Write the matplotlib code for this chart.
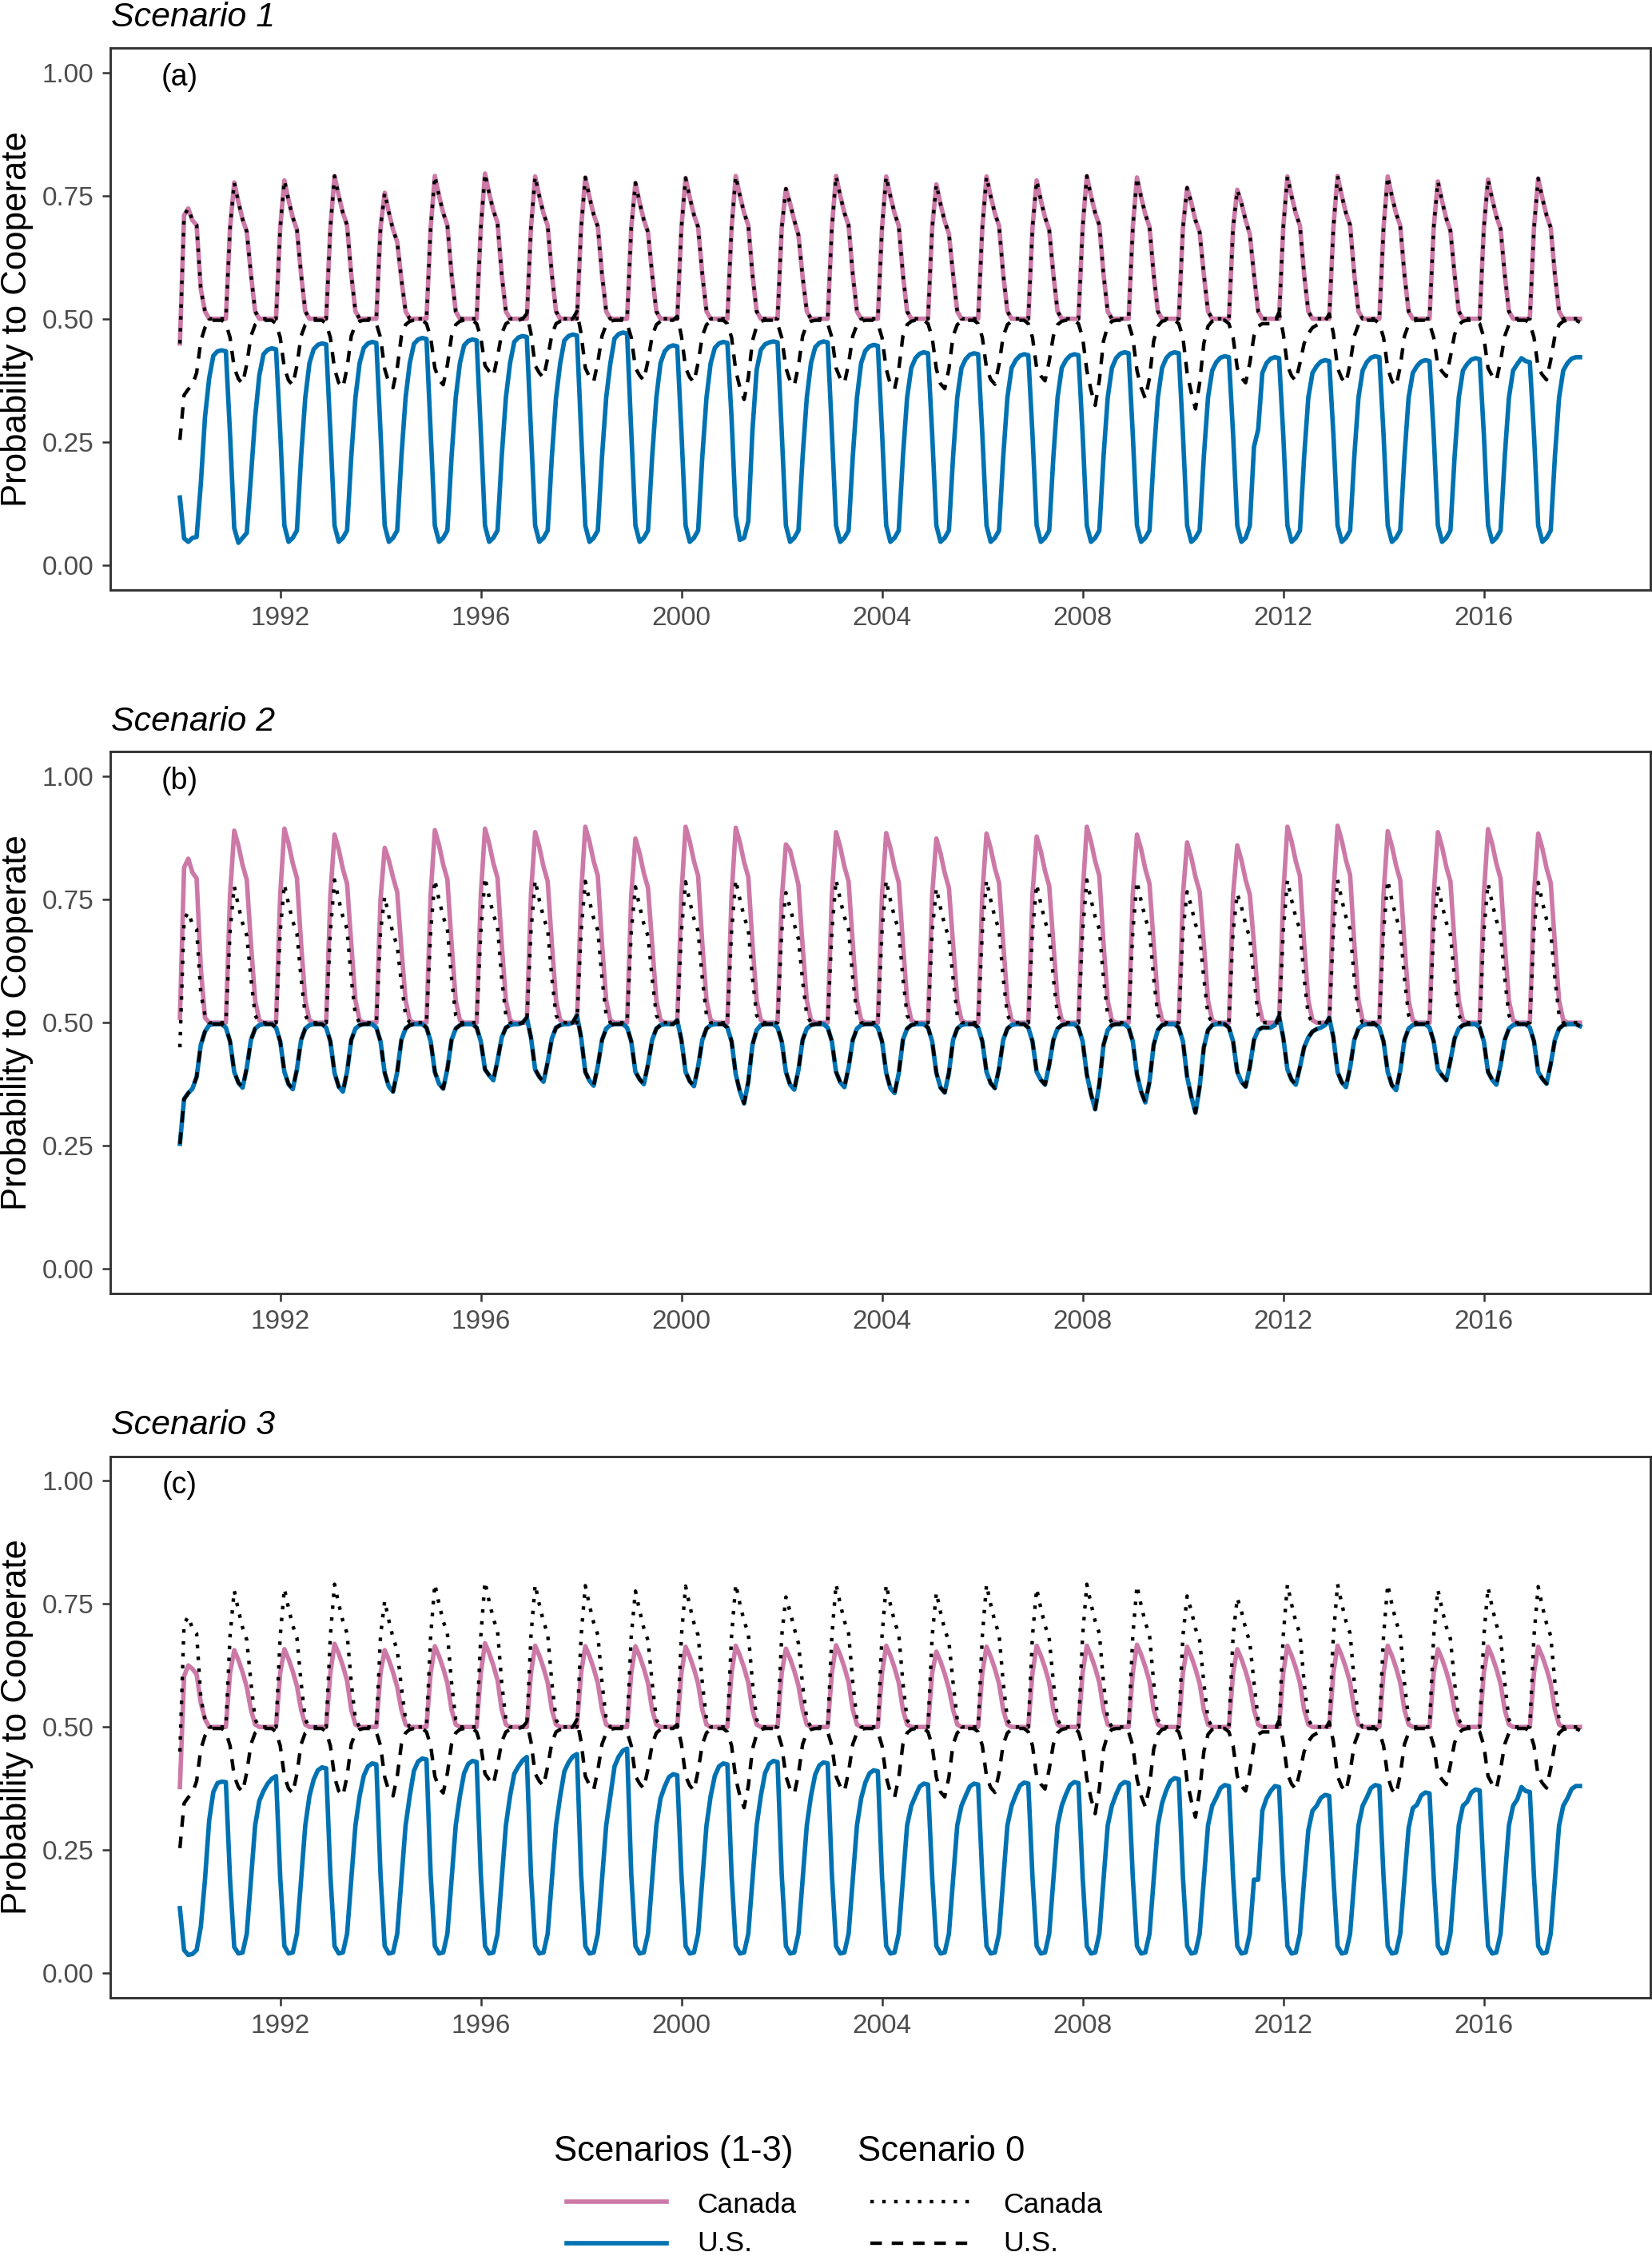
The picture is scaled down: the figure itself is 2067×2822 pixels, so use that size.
import matplotlib.pyplot as plt
from matplotlib.lines import Line2D
import numpy as np

plt.rcParams['font.family'] = ['Liberation Sans', 'DejaVu Sans']

# monthly values, one row (Jan..Dec) per year, 1990-2017
years = list(range(1990, 2018))

# Scenario 0 (baseline, same in every panel)
canada_s0 = [
    [0.450, 0.710, 0.724, 0.700, 0.690, 0.560, 0.515, 0.500, 0.500, 0.500, 0.500, 0.500],
    [0.685, 0.777, 0.737, 0.702, 0.677, 0.590, 0.515, 0.500, 0.500, 0.500, 0.500, 0.500],
    [0.685, 0.781, 0.741, 0.706, 0.681, 0.590, 0.515, 0.500, 0.500, 0.500, 0.500, 0.500],
    [0.685, 0.790, 0.750, 0.715, 0.690, 0.590, 0.515, 0.500, 0.500, 0.500, 0.500, 0.500],
    [0.685, 0.756, 0.716, 0.681, 0.656, 0.580, 0.515, 0.500, 0.500, 0.500, 0.500, 0.500],
    [0.685, 0.790, 0.750, 0.715, 0.690, 0.590, 0.515, 0.500, 0.500, 0.500, 0.500, 0.500],
    [0.685, 0.795, 0.755, 0.720, 0.695, 0.590, 0.515, 0.500, 0.500, 0.500, 0.500, 0.500],
    [0.685, 0.789, 0.749, 0.714, 0.689, 0.590, 0.515, 0.500, 0.500, 0.500, 0.500, 0.500],
    [0.685, 0.787, 0.747, 0.712, 0.687, 0.590, 0.515, 0.500, 0.500, 0.500, 0.500, 0.500],
    [0.685, 0.776, 0.736, 0.701, 0.676, 0.590, 0.515, 0.500, 0.500, 0.500, 0.500, 0.500],
    [0.685, 0.786, 0.746, 0.711, 0.686, 0.590, 0.515, 0.500, 0.500, 0.500, 0.500, 0.500],
    [0.685, 0.790, 0.750, 0.715, 0.690, 0.590, 0.515, 0.500, 0.500, 0.500, 0.500, 0.500],
    [0.685, 0.764, 0.734, 0.700, 0.670, 0.585, 0.515, 0.500, 0.500, 0.500, 0.500, 0.500],
    [0.685, 0.790, 0.750, 0.715, 0.690, 0.590, 0.515, 0.500, 0.500, 0.500, 0.500, 0.500],
    [0.685, 0.789, 0.749, 0.714, 0.689, 0.590, 0.515, 0.500, 0.500, 0.500, 0.500, 0.500],
    [0.685, 0.773, 0.733, 0.698, 0.673, 0.590, 0.515, 0.500, 0.500, 0.500, 0.500, 0.500],
    [0.685, 0.789, 0.749, 0.714, 0.689, 0.590, 0.515, 0.500, 0.500, 0.500, 0.500, 0.500],
    [0.685, 0.781, 0.741, 0.706, 0.681, 0.590, 0.515, 0.500, 0.500, 0.500, 0.500, 0.500],
    [0.685, 0.790, 0.750, 0.715, 0.690, 0.590, 0.515, 0.500, 0.500, 0.500, 0.500, 0.500],
    [0.685, 0.787, 0.747, 0.712, 0.687, 0.590, 0.515, 0.500, 0.500, 0.500, 0.500, 0.500],
    [0.685, 0.766, 0.736, 0.700, 0.676, 0.590, 0.515, 0.500, 0.500, 0.500, 0.500, 0.500],
    [0.685, 0.762, 0.735, 0.700, 0.672, 0.590, 0.515, 0.500, 0.500, 0.500, 0.500, 0.500],
    [0.685, 0.789, 0.749, 0.714, 0.689, 0.590, 0.515, 0.500, 0.500, 0.500, 0.500, 0.500],
    [0.685, 0.790, 0.750, 0.715, 0.690, 0.590, 0.515, 0.500, 0.500, 0.500, 0.500, 0.500],
    [0.685, 0.789, 0.749, 0.714, 0.689, 0.590, 0.515, 0.500, 0.500, 0.500, 0.500, 0.500],
    [0.685, 0.779, 0.739, 0.704, 0.679, 0.590, 0.515, 0.500, 0.500, 0.500, 0.500, 0.500],
    [0.685, 0.783, 0.743, 0.708, 0.683, 0.590, 0.515, 0.500, 0.500, 0.500, 0.500, 0.500],
    [0.685, 0.785, 0.745, 0.710, 0.685, 0.590, 0.515, 0.500, 0.500, 0.500, 0.500, 0.500],
]

us_s0 = [
    [0.254, 0.345, 0.357, 0.366, 0.390, 0.455, 0.482, 0.495, 0.497, 0.497, 0.497, 0.490],
    [0.462, 0.400, 0.378, 0.368, 0.408, 0.465, 0.488, 0.495, 0.497, 0.497, 0.497, 0.490],
    [0.462, 0.400, 0.375, 0.365, 0.405, 0.465, 0.488, 0.495, 0.497, 0.497, 0.497, 0.490],
    [0.462, 0.398, 0.370, 0.360, 0.400, 0.465, 0.488, 0.495, 0.497, 0.497, 0.497, 0.490],
    [0.462, 0.398, 0.370, 0.360, 0.400, 0.465, 0.488, 0.495, 0.497, 0.497, 0.497, 0.490],
    [0.462, 0.400, 0.376, 0.366, 0.406, 0.465, 0.488, 0.495, 0.497, 0.497, 0.497, 0.490],
    [0.462, 0.405, 0.393, 0.383, 0.423, 0.470, 0.490, 0.495, 0.497, 0.497, 0.500, 0.510],
    [0.470, 0.405, 0.390, 0.380, 0.420, 0.468, 0.490, 0.495, 0.497, 0.497, 0.500, 0.515],
    [0.470, 0.400, 0.382, 0.372, 0.412, 0.465, 0.488, 0.495, 0.497, 0.497, 0.497, 0.490],
    [0.462, 0.400, 0.385, 0.375, 0.415, 0.465, 0.488, 0.495, 0.497, 0.497, 0.497, 0.505],
    [0.465, 0.400, 0.381, 0.371, 0.411, 0.465, 0.488, 0.495, 0.497, 0.497, 0.497, 0.490],
    [0.462, 0.395, 0.360, 0.336, 0.380, 0.455, 0.485, 0.495, 0.497, 0.497, 0.497, 0.490],
    [0.462, 0.400, 0.374, 0.364, 0.404, 0.465, 0.488, 0.495, 0.497, 0.497, 0.497, 0.490],
    [0.462, 0.400, 0.379, 0.369, 0.409, 0.465, 0.488, 0.495, 0.497, 0.497, 0.497, 0.490],
    [0.462, 0.398, 0.367, 0.357, 0.397, 0.465, 0.488, 0.495, 0.497, 0.497, 0.497, 0.490],
    [0.462, 0.398, 0.368, 0.358, 0.398, 0.465, 0.488, 0.495, 0.497, 0.497, 0.497, 0.490],
    [0.462, 0.400, 0.377, 0.367, 0.407, 0.465, 0.488, 0.495, 0.497, 0.497, 0.497, 0.490],
    [0.462, 0.400, 0.384, 0.374, 0.414, 0.465, 0.488, 0.495, 0.497, 0.497, 0.497, 0.490],
    [0.462, 0.395, 0.355, 0.324, 0.375, 0.455, 0.485, 0.495, 0.497, 0.497, 0.497, 0.490],
    [0.462, 0.395, 0.360, 0.338, 0.380, 0.455, 0.485, 0.495, 0.497, 0.497, 0.497, 0.490],
    [0.462, 0.390, 0.350, 0.317, 0.370, 0.450, 0.485, 0.495, 0.497, 0.497, 0.497, 0.490],
    [0.462, 0.400, 0.380, 0.370, 0.410, 0.465, 0.485, 0.490, 0.490, 0.490, 0.495, 0.513],
    [0.470, 0.405, 0.384, 0.374, 0.410, 0.450, 0.470, 0.482, 0.487, 0.490, 0.495, 0.510],
    [0.470, 0.400, 0.379, 0.369, 0.409, 0.465, 0.488, 0.495, 0.497, 0.497, 0.497, 0.490],
    [0.462, 0.400, 0.373, 0.363, 0.403, 0.465, 0.488, 0.495, 0.497, 0.497, 0.497, 0.490],
    [0.462, 0.405, 0.393, 0.383, 0.423, 0.468, 0.488, 0.495, 0.497, 0.497, 0.497, 0.490],
    [0.462, 0.400, 0.384, 0.374, 0.414, 0.465, 0.488, 0.495, 0.497, 0.497, 0.497, 0.490],
    [0.462, 0.400, 0.386, 0.376, 0.416, 0.465, 0.488, 0.495, 0.497, 0.497, 0.497, 0.493],
]

# Scenario 1: Canada follows the baseline
canada_s1 = canada_s0
us_s1 = [
    [0.137, 0.054, 0.047, 0.055, 0.057, 0.164, 0.300, 0.379, 0.425, 0.434, 0.436, 0.434],
    [0.265, 0.075, 0.045, 0.055, 0.065, 0.180, 0.300, 0.385, 0.428, 0.437, 0.440, 0.438],
    [0.270, 0.080, 0.047, 0.055, 0.070, 0.220, 0.340, 0.410, 0.438, 0.447, 0.450, 0.448],
    [0.270, 0.080, 0.047, 0.055, 0.070, 0.220, 0.340, 0.410, 0.441, 0.450, 0.453, 0.451],
    [0.270, 0.080, 0.047, 0.055, 0.070, 0.220, 0.340, 0.410, 0.449, 0.458, 0.461, 0.459],
    [0.270, 0.080, 0.047, 0.055, 0.070, 0.220, 0.340, 0.410, 0.446, 0.455, 0.458, 0.456],
    [0.270, 0.080, 0.047, 0.055, 0.070, 0.220, 0.340, 0.410, 0.453, 0.462, 0.465, 0.463],
    [0.270, 0.080, 0.047, 0.055, 0.070, 0.220, 0.340, 0.410, 0.456, 0.465, 0.468, 0.466],
    [0.270, 0.080, 0.047, 0.055, 0.070, 0.220, 0.340, 0.410, 0.460, 0.469, 0.472, 0.470],
    [0.270, 0.080, 0.047, 0.055, 0.070, 0.220, 0.340, 0.410, 0.434, 0.443, 0.446, 0.444],
    [0.270, 0.080, 0.047, 0.055, 0.070, 0.220, 0.340, 0.410, 0.441, 0.450, 0.453, 0.451],
    [0.298, 0.100, 0.051, 0.055, 0.089, 0.274, 0.396, 0.437, 0.448, 0.452, 0.454, 0.452],
    [0.270, 0.080, 0.047, 0.055, 0.070, 0.220, 0.340, 0.410, 0.442, 0.451, 0.454, 0.452],
    [0.270, 0.080, 0.047, 0.055, 0.070, 0.220, 0.340, 0.410, 0.435, 0.444, 0.447, 0.445],
    [0.270, 0.080, 0.047, 0.055, 0.070, 0.220, 0.340, 0.400, 0.420, 0.429, 0.432, 0.430],
    [0.265, 0.080, 0.047, 0.055, 0.070, 0.220, 0.340, 0.400, 0.418, 0.427, 0.430, 0.428],
    [0.265, 0.080, 0.047, 0.055, 0.070, 0.220, 0.340, 0.400, 0.416, 0.425, 0.428, 0.426],
    [0.265, 0.080, 0.047, 0.055, 0.070, 0.220, 0.340, 0.400, 0.416, 0.425, 0.428, 0.426],
    [0.265, 0.080, 0.047, 0.055, 0.070, 0.220, 0.340, 0.400, 0.420, 0.429, 0.432, 0.430],
    [0.265, 0.080, 0.047, 0.055, 0.070, 0.220, 0.340, 0.400, 0.420, 0.429, 0.432, 0.430],
    [0.265, 0.080, 0.047, 0.055, 0.070, 0.220, 0.340, 0.395, 0.412, 0.421, 0.424, 0.422],
    [0.265, 0.080, 0.047, 0.055, 0.080, 0.240, 0.275, 0.390, 0.410, 0.419, 0.422, 0.420],
    [0.265, 0.080, 0.047, 0.055, 0.070, 0.220, 0.340, 0.390, 0.404, 0.413, 0.416, 0.414],
    [0.265, 0.080, 0.047, 0.055, 0.070, 0.220, 0.340, 0.395, 0.412, 0.421, 0.424, 0.422],
    [0.265, 0.080, 0.047, 0.055, 0.070, 0.220, 0.340, 0.390, 0.404, 0.413, 0.416, 0.414],
    [0.265, 0.080, 0.047, 0.055, 0.070, 0.220, 0.340, 0.395, 0.408, 0.417, 0.420, 0.418],
    [0.265, 0.080, 0.047, 0.055, 0.070, 0.220, 0.340, 0.395, 0.408, 0.420, 0.414, 0.412],
    [0.265, 0.080, 0.047, 0.055, 0.070, 0.220, 0.340, 0.395, 0.410, 0.419, 0.422, 0.422],
]

# Scenario 2: U.S. follows the baseline
canada_s2 = [
    [0.510, 0.815, 0.833, 0.805, 0.793, 0.610, 0.510, 0.500, 0.500, 0.500, 0.500, 0.500],
    [0.760, 0.890, 0.860, 0.820, 0.790, 0.660, 0.545, 0.505, 0.500, 0.500, 0.500, 0.500],
    [0.760, 0.894, 0.864, 0.824, 0.794, 0.660, 0.545, 0.505, 0.500, 0.500, 0.500, 0.500],
    [0.760, 0.882, 0.852, 0.812, 0.782, 0.660, 0.545, 0.505, 0.500, 0.500, 0.500, 0.500],
    [0.750, 0.855, 0.830, 0.795, 0.765, 0.650, 0.545, 0.505, 0.500, 0.500, 0.500, 0.500],
    [0.760, 0.891, 0.861, 0.821, 0.791, 0.660, 0.545, 0.505, 0.500, 0.500, 0.500, 0.500],
    [0.760, 0.894, 0.864, 0.824, 0.794, 0.660, 0.545, 0.505, 0.500, 0.500, 0.500, 0.500],
    [0.760, 0.887, 0.857, 0.817, 0.787, 0.660, 0.545, 0.505, 0.500, 0.500, 0.500, 0.500],
    [0.760, 0.898, 0.868, 0.828, 0.798, 0.660, 0.545, 0.505, 0.500, 0.500, 0.500, 0.500],
    [0.760, 0.874, 0.844, 0.804, 0.774, 0.660, 0.545, 0.505, 0.500, 0.500, 0.500, 0.500],
    [0.760, 0.898, 0.868, 0.828, 0.798, 0.660, 0.545, 0.505, 0.500, 0.500, 0.500, 0.500],
    [0.760, 0.896, 0.866, 0.826, 0.796, 0.660, 0.545, 0.505, 0.500, 0.500, 0.500, 0.500],
    [0.750, 0.862, 0.850, 0.815, 0.780, 0.655, 0.545, 0.505, 0.500, 0.500, 0.500, 0.500],
    [0.760, 0.887, 0.857, 0.817, 0.787, 0.660, 0.545, 0.505, 0.500, 0.500, 0.500, 0.500],
    [0.760, 0.885, 0.855, 0.815, 0.785, 0.660, 0.545, 0.505, 0.500, 0.500, 0.500, 0.500],
    [0.760, 0.874, 0.844, 0.804, 0.774, 0.660, 0.545, 0.505, 0.500, 0.500, 0.500, 0.500],
    [0.760, 0.884, 0.854, 0.814, 0.784, 0.660, 0.545, 0.505, 0.500, 0.500, 0.500, 0.500],
    [0.760, 0.878, 0.848, 0.808, 0.778, 0.660, 0.545, 0.505, 0.500, 0.500, 0.500, 0.500],
    [0.760, 0.898, 0.868, 0.828, 0.798, 0.660, 0.545, 0.505, 0.500, 0.500, 0.500, 0.500],
    [0.760, 0.882, 0.852, 0.812, 0.782, 0.660, 0.545, 0.505, 0.500, 0.500, 0.500, 0.500],
    [0.760, 0.866, 0.836, 0.796, 0.766, 0.660, 0.545, 0.505, 0.500, 0.500, 0.500, 0.500],
    [0.760, 0.860, 0.830, 0.790, 0.760, 0.660, 0.545, 0.505, 0.500, 0.500, 0.500, 0.500],
    [0.760, 0.898, 0.868, 0.828, 0.798, 0.660, 0.545, 0.505, 0.500, 0.500, 0.500, 0.500],
    [0.760, 0.900, 0.870, 0.830, 0.800, 0.660, 0.545, 0.505, 0.500, 0.500, 0.500, 0.500],
    [0.760, 0.889, 0.859, 0.819, 0.789, 0.660, 0.545, 0.505, 0.500, 0.500, 0.500, 0.500],
    [0.760, 0.887, 0.857, 0.817, 0.787, 0.660, 0.545, 0.505, 0.500, 0.500, 0.500, 0.500],
    [0.760, 0.893, 0.863, 0.823, 0.793, 0.660, 0.545, 0.505, 0.500, 0.500, 0.500, 0.500],
    [0.760, 0.884, 0.854, 0.814, 0.784, 0.660, 0.545, 0.505, 0.500, 0.500, 0.500, 0.500],
]
us_s2 = us_s0

# Scenario 3
canada_s3 = [
    [0.378, 0.603, 0.625, 0.618, 0.607, 0.549, 0.516, 0.500, 0.500, 0.500, 0.500, 0.500],
    [0.610, 0.656, 0.636, 0.611, 0.581, 0.535, 0.505, 0.500, 0.500, 0.500, 0.500, 0.500],
    [0.610, 0.658, 0.638, 0.613, 0.583, 0.535, 0.505, 0.500, 0.500, 0.500, 0.500, 0.500],
    [0.610, 0.669, 0.649, 0.624, 0.594, 0.535, 0.505, 0.500, 0.500, 0.500, 0.500, 0.500],
    [0.610, 0.656, 0.636, 0.611, 0.581, 0.535, 0.505, 0.500, 0.500, 0.500, 0.500, 0.500],
    [0.610, 0.664, 0.644, 0.619, 0.589, 0.535, 0.505, 0.500, 0.500, 0.500, 0.500, 0.500],
    [0.610, 0.670, 0.650, 0.625, 0.595, 0.535, 0.505, 0.500, 0.500, 0.500, 0.500, 0.500],
    [0.610, 0.665, 0.645, 0.620, 0.590, 0.535, 0.505, 0.500, 0.500, 0.500, 0.500, 0.500],
    [0.610, 0.664, 0.644, 0.619, 0.589, 0.535, 0.505, 0.500, 0.500, 0.500, 0.500, 0.500],
    [0.610, 0.664, 0.644, 0.619, 0.589, 0.535, 0.505, 0.500, 0.500, 0.500, 0.500, 0.500],
    [0.610, 0.663, 0.643, 0.618, 0.588, 0.535, 0.505, 0.500, 0.500, 0.500, 0.500, 0.500],
    [0.610, 0.665, 0.645, 0.620, 0.590, 0.535, 0.505, 0.500, 0.500, 0.500, 0.500, 0.500],
    [0.610, 0.659, 0.639, 0.614, 0.584, 0.535, 0.505, 0.500, 0.500, 0.500, 0.500, 0.500],
    [0.610, 0.666, 0.646, 0.621, 0.591, 0.535, 0.505, 0.500, 0.500, 0.500, 0.500, 0.500],
    [0.610, 0.665, 0.645, 0.620, 0.590, 0.535, 0.505, 0.500, 0.500, 0.500, 0.500, 0.500],
    [0.610, 0.653, 0.633, 0.608, 0.578, 0.535, 0.505, 0.500, 0.500, 0.500, 0.500, 0.500],
    [0.610, 0.663, 0.643, 0.618, 0.588, 0.535, 0.505, 0.500, 0.500, 0.500, 0.500, 0.500],
    [0.610, 0.665, 0.645, 0.620, 0.590, 0.535, 0.505, 0.500, 0.500, 0.500, 0.500, 0.500],
    [0.610, 0.665, 0.645, 0.620, 0.590, 0.535, 0.505, 0.500, 0.500, 0.500, 0.500, 0.500],
    [0.610, 0.667, 0.647, 0.622, 0.592, 0.535, 0.505, 0.500, 0.500, 0.500, 0.500, 0.500],
    [0.610, 0.663, 0.643, 0.618, 0.588, 0.535, 0.505, 0.500, 0.500, 0.500, 0.500, 0.500],
    [0.610, 0.658, 0.638, 0.613, 0.583, 0.535, 0.505, 0.500, 0.500, 0.500, 0.500, 0.500],
    [0.610, 0.665, 0.645, 0.620, 0.590, 0.535, 0.505, 0.500, 0.500, 0.500, 0.500, 0.500],
    [0.610, 0.665, 0.645, 0.620, 0.590, 0.535, 0.505, 0.500, 0.500, 0.500, 0.500, 0.500],
    [0.610, 0.665, 0.645, 0.620, 0.590, 0.535, 0.505, 0.500, 0.500, 0.500, 0.500, 0.500],
    [0.610, 0.658, 0.638, 0.613, 0.583, 0.535, 0.505, 0.500, 0.500, 0.500, 0.500, 0.500],
    [0.610, 0.663, 0.643, 0.618, 0.588, 0.535, 0.505, 0.500, 0.500, 0.500, 0.500, 0.500],
    [0.610, 0.663, 0.643, 0.618, 0.588, 0.535, 0.505, 0.500, 0.500, 0.500, 0.500, 0.500],
]

us_s3 = [
    [0.132, 0.047, 0.037, 0.039, 0.047, 0.094, 0.190, 0.310, 0.368, 0.386, 0.389, 0.388],
    [0.190, 0.053, 0.040, 0.042, 0.080, 0.190, 0.300, 0.350, 0.370, 0.385, 0.395, 0.400],
    [0.195, 0.055, 0.040, 0.042, 0.080, 0.190, 0.300, 0.360, 0.393, 0.412, 0.418, 0.416],
    [0.200, 0.055, 0.040, 0.042, 0.080, 0.190, 0.300, 0.360, 0.401, 0.420, 0.426, 0.424],
    [0.200, 0.055, 0.040, 0.042, 0.080, 0.190, 0.300, 0.360, 0.411, 0.430, 0.436, 0.434],
    [0.200, 0.055, 0.040, 0.042, 0.080, 0.190, 0.300, 0.360, 0.406, 0.425, 0.431, 0.429],
    [0.200, 0.055, 0.040, 0.042, 0.080, 0.190, 0.300, 0.360, 0.405, 0.420, 0.432, 0.439],
    [0.200, 0.055, 0.040, 0.042, 0.080, 0.190, 0.300, 0.360, 0.410, 0.428, 0.440, 0.445],
    [0.200, 0.055, 0.040, 0.042, 0.080, 0.190, 0.300, 0.360, 0.420, 0.440, 0.452, 0.456],
    [0.200, 0.055, 0.040, 0.042, 0.080, 0.190, 0.300, 0.355, 0.379, 0.398, 0.404, 0.402],
    [0.200, 0.055, 0.040, 0.042, 0.080, 0.190, 0.300, 0.360, 0.401, 0.420, 0.426, 0.424],
    [0.200, 0.055, 0.040, 0.042, 0.080, 0.190, 0.300, 0.360, 0.406, 0.425, 0.431, 0.429],
    [0.200, 0.055, 0.040, 0.042, 0.080, 0.190, 0.300, 0.360, 0.403, 0.422, 0.428, 0.426],
    [0.200, 0.055, 0.040, 0.042, 0.080, 0.190, 0.300, 0.355, 0.387, 0.406, 0.412, 0.410],
    [0.195, 0.055, 0.040, 0.042, 0.080, 0.190, 0.300, 0.340, 0.360, 0.379, 0.385, 0.383],
    [0.195, 0.055, 0.040, 0.042, 0.080, 0.190, 0.300, 0.340, 0.360, 0.379, 0.385, 0.383],
    [0.195, 0.055, 0.040, 0.042, 0.080, 0.190, 0.300, 0.340, 0.362, 0.381, 0.387, 0.385],
    [0.195, 0.055, 0.040, 0.042, 0.080, 0.190, 0.300, 0.340, 0.363, 0.382, 0.388, 0.386],
    [0.195, 0.055, 0.040, 0.042, 0.080, 0.190, 0.300, 0.340, 0.363, 0.382, 0.388, 0.386],
    [0.195, 0.055, 0.040, 0.042, 0.080, 0.190, 0.300, 0.345, 0.371, 0.390, 0.396, 0.394],
    [0.195, 0.055, 0.040, 0.042, 0.080, 0.190, 0.300, 0.340, 0.357, 0.376, 0.382, 0.380],
    [0.195, 0.055, 0.040, 0.042, 0.080, 0.190, 0.190, 0.330, 0.355, 0.370, 0.380, 0.378],
    [0.195, 0.055, 0.040, 0.042, 0.080, 0.190, 0.290, 0.330, 0.340, 0.356, 0.362, 0.360],
    [0.195, 0.055, 0.040, 0.042, 0.080, 0.190, 0.300, 0.340, 0.357, 0.376, 0.382, 0.380],
    [0.195, 0.055, 0.040, 0.042, 0.080, 0.190, 0.295, 0.335, 0.342, 0.361, 0.367, 0.365],
    [0.195, 0.055, 0.040, 0.042, 0.080, 0.190, 0.300, 0.340, 0.348, 0.367, 0.373, 0.371],
    [0.195, 0.055, 0.040, 0.042, 0.080, 0.190, 0.300, 0.340, 0.353, 0.378, 0.370, 0.368],
    [0.195, 0.055, 0.040, 0.042, 0.080, 0.190, 0.300, 0.340, 0.355, 0.374, 0.380, 0.380],
]

x_ticks = [1992, 1996, 2000, 2004, 2008, 2012, 2016]
y_ticks = [0.00, 0.25, 0.50, 0.75, 1.00]
titles = ['Scenario 1', 'Scenario 2', 'Scenario 3']
tags = ['(a)', '(b)', '(c)']

col_can = '#CC79A7'
col_us = '#0072B2'
lw_solid = 1.35
lw_black = 1.05
dotted = (0, (1.0, 2.4))
dashed = (0, (3.3, 2.8))

t = np.array([y + m / 12 for y in years for m in range(12)])
flat = lambda rows: np.array(rows).ravel()

W, H = 2067, 2822
fig = plt.figure(figsize=(W / 300, H / 300), dpi=300)

left, width = 137.5 / W, 1927 / W
panel_h = 677.5
tops = [60, 940.5, 1821.5]
panels = [(canada_s1, us_s1), (canada_s2, us_s2), (canada_s3, us_s3)]

for i, (can, us) in enumerate(panels):
    top = tops[i]
    ax = fig.add_axes([left, 1 - (top + panel_h) / H, width, panel_h / H])
    ax.plot(t, flat(can), color=col_can, lw=lw_solid)
    ax.plot(t, flat(us), color=col_us, lw=lw_solid)
    ax.plot(t, flat(canada_s0), color='black', lw=lw_black, linestyle=dotted)
    ax.plot(t, flat(us_s0), color='black', lw=lw_black, linestyle=dashed)

    ax.set_xlim(1988.604, 2019.313)
    ax.set_ylim(-0.05, 1.05)
    ax.set_xticks(x_ticks)
    ax.set_xticklabels([str(v) for v in x_ticks])
    ax.set_yticks(y_ticks)
    ax.set_yticklabels(['%.2f' % v for v in y_ticks])
    ax.tick_params(length=2.4, width=0.6, color='#333333', labelsize=8,
                   labelcolor='#4D4D4D', pad=2.4)
    for sp in ax.spines.values():
        sp.set_linewidth(0.7)
        sp.set_color('#333333')

    ax.text(1990, 0.99, tags[i], ha='center', va='center', fontsize=9)
    fig.text(139 / W, 1 - (top - 27) / H, titles[i], style='italic',
             fontsize=10.3, ha='left', va='baseline')
    fig.text(21.7 / W, 1 - (top + panel_h / 2) / H, 'Probability to Cooperate',
             rotation=90, ha='center', va='center', fontsize=10.5)

# legend
fy = lambda px: 1 - px / H
fig.text(693 / W, fy(2703), 'Scenarios (1-3)', fontsize=10.5, va='baseline')
fig.text(1073 / W, fy(2703), 'Scenario 0', fontsize=10.5, va='baseline')
keys = [
    (709, 834, 2754, dict(color=col_can, lw=lw_solid)),
    (709, 834, 2806, dict(color=col_us, lw=lw_solid)),
    (1089, 1214, 2754, dict(color='black', lw=lw_black, linestyle=dotted)),
    (1089, 1214, 2806, dict(color='black', lw=lw_black, linestyle=dashed)),
]
for x0, x1, y, kw in keys:
    fig.add_artist(Line2D([x0 / W, x1 / W], [fy(y), fy(y)],
                          transform=fig.transFigure, **kw))
for xl in (872, 1255):
    fig.text(xl / W, fy(2768), 'Canada', fontsize=8.5, va='baseline')
    fig.text(xl / W, fy(2816), 'U.S.', fontsize=8.5, va='baseline')

fig.savefig('out.png', dpi=300)
